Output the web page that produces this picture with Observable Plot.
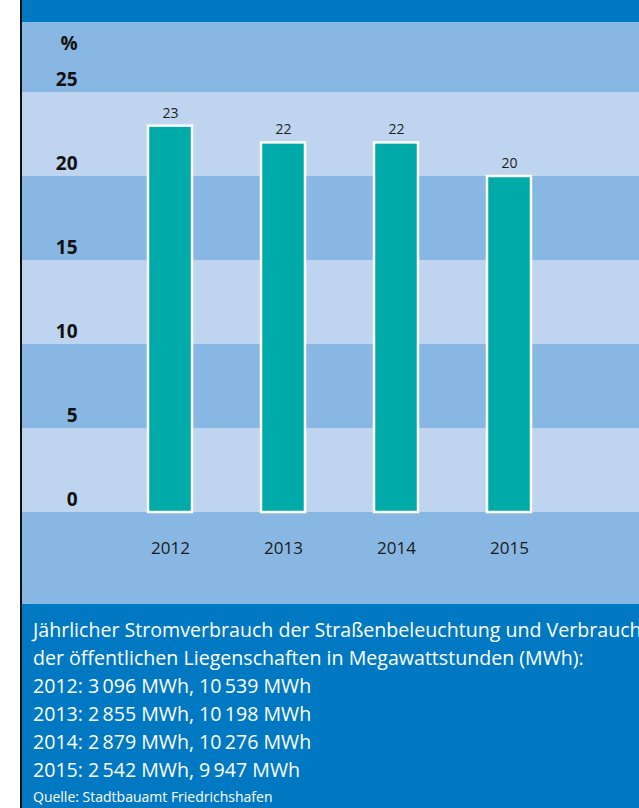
<!DOCTYPE html>
<html lang="de">
<head>
<meta charset="utf-8">
<script src="https://cdn.jsdelivr.net/npm/d3@7"></script>
<script src="https://cdn.jsdelivr.net/npm/@observablehq/plot@0.6"></script>
<style>
  html, body { margin: 0; padding: 0; background: #ffffff; }
  body { font-family: "Open Sans", "Noto Sans", sans-serif; }
  #wrap { margin-left: 20px; border-left: 2px solid #111; width: 617px; height: 808px; overflow: hidden; }
  #head { height: 22px; background: #0079c2; }
  #chart svg { display: block; }
  #cap { background: #0079c2; height: 204px; color: #ffffff; padding: 12px 0 0 11px; box-sizing: border-box; white-space: nowrap; overflow: hidden; }
  #cap .line { font-size: 19.6px; line-height: 28px; }
  #cap .src { font-size: 14px; line-height: 20px; margin-top: 3px; }
</style>
</head>
<body>
<div id="wrap">
  <div id="head"></div>
  <div id="chart"></div>
  <div id="cap"></div>
</div>
<script>
// ---- data ----
const years = ["2012", "2013", "2014", "2015"];
const shares = [23, 22, 22, 20];            // Anteil in %
const streetMWh = [3096, 2855, 2879, 2542];  // Straßenbeleuchtung
const publicMWh = [10539, 10198, 10276, 9947]; // öffentliche Liegenschaften
const yTicks = [0, 5, 10, 15, 20, 25];
const lightBands = [[0, 5], [10, 15], [20, 25]];
const yUnit = "%";
const captionIntro = [
  "Jährlicher Stromverbrauch der Straßenbeleuchtung und Verbrauch",
  "der öffentlichen Liegenschaften in Megawattstunden (MWh):"
];
const source = "Quelle: Stadtbauamt Friedrichshafen";

const data = years.map((y, i) => ({year: y, value: shares[i]}));

const font = '"Open Sans", "Noto Sans", sans-serif';

const chart = Plot.plot({
  width: 617,
  height: 582,
  marginTop: 0, marginRight: 0, marginBottom: 0, marginLeft: 0,
  style: {background: "#89b7e3", fontFamily: font, overflow: "visible"},
  x: {type: "band", domain: years, range: [56, 579], padding: 0.61},
  y: {domain: [0, 25], range: [490, 70], axis: null},
  marks: [
    Plot.rectY(lightBands, {y1: d => d[0], y2: d => d[1], fill: "#bed4ef"}),
    Plot.barY(data, {x: "year", y: "value", fill: "#00aaa8", stroke: "#ffffff", strokeWidth: 2.5}),
    Plot.text(data, {x: "year", y: "value", text: d => String(d.value), dy: -13, fontSize: 14, fill: "#1e1e1e"}),
    Plot.text(yTicks, {y: d => d, text: d => String(d), frameAnchor: "left", dx: 55, dy: -12.5,
      textAnchor: "end", fontSize: 19, fontWeight: "bold", fill: "#111"}),
    Plot.text([yUnit], {text: d => d, frameAnchor: "top-left", lineAnchor: "middle", dx: 55, dy: 21,
      textAnchor: "end", fontSize: 19, fontWeight: "bold", fill: "#111"}),
    Plot.axisX({anchor: "bottom", tickSize: 0, tickPadding: 0, dy: -63, fontSize: 17, fill: "#1a1a1a", label: null})
  ]
});
document.getElementById("chart").appendChild(chart);

// ---- caption ----
const fmt = n => String(n).replace(/\B(?=(\d{3})+(?!\d))/g, "\u2009");
const cap = document.getElementById("cap");
const lines = captionIntro.concat(years.map((y, i) => `${y}: ${fmt(streetMWh[i])} MWh, ${fmt(publicMWh[i])} MWh`));
for (const t of lines) {
  const d = document.createElement("div");
  d.className = "line";
  d.textContent = t;
  cap.appendChild(d);
}
const s = document.createElement("div");
s.className = "src";
s.textContent = source;
cap.appendChild(s);
</script>
</body>
</html>
